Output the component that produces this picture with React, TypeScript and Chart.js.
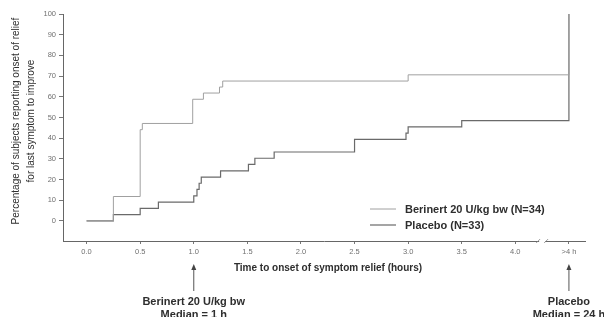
import React, { useEffect, useRef } from 'react';
import { Chart, registerables } from 'chart.js';

Chart.register(...registerables);

// Kaplan-Meier style step data (time in hours, cumulative % relieved)
const BERINERT_TIMES = [0, 0.25, 0.5, 0.52, 0.99, 1.09, 1.24, 1.27, 3.0, 4.5];
const BERINERT_VALUES = [0, 11.8, 44.1, 47.1, 58.8, 61.8, 64.7, 67.6, 70.6, 100];

const PLACEBO_TIMES = [0, 0.25, 0.5, 0.67, 1.0, 1.03, 1.05, 1.07, 1.25, 1.51, 1.57, 1.75, 2.5, 2.98, 3.0, 3.5, 4.5];
const PLACEBO_VALUES = [0, 3.0, 6.1, 9.1, 12.1, 15.2, 18.2, 21.2, 24.2, 27.3, 30.3, 33.3, 39.4, 42.4, 45.5, 48.5, 100];

const SERIES_LABELS = ['Berinert 20 U/kg bw (N=34)', 'Placebo (N=33)'];

const X_TICKS = [0, 0.5, 1.0, 1.5, 2.0, 2.5, 3.0, 3.5, 4.0, 4.5];
const X_TICK_LABELS = ['0.0', '0.5', '1.0', '1.5', '2.0', '2.5', '3.0', '3.5', '4.0', '>4 h'];
const Y_TICKS = [0, 10, 20, 30, 40, 50, 60, 70, 80, 90, 100];

const X_TITLE = 'Time to onset of symptom relief (hours)';
const Y_TITLE = ['Percentage of subjects reporting onset of relief', 'for last symptom to improve'];

const MEDIAN_TIMES = [1.0, 4.5];
const MEDIAN_TEXTS = [
  ['Berinert 20 U/kg bw', 'Median = 1 h'],
  ['Placebo', 'Median = 24 h'],
];
const BREAK_AT = 4.25;

const FONT = '"Liberation Sans", Arial, sans-serif';
const TEXT_COLOR = '#2e2e2e';
const COLORS = ['#a0a0a0', '#6a6a6a'];
const WIDTHS = [1, 1.2];

const annotations = {
  id: 'annotations',
  afterDraw(chart: any) {
    const ctx = chart.ctx as CanvasRenderingContext2D;
    const xs = chart.scales.x;
    const area = chart.chartArea;
    ctx.save();

    // axis break marker
    const bx = xs.getPixelForValue(BREAK_AT);
    const by = area.bottom;
    ctx.fillStyle = '#fff';
    ctx.fillRect(bx - 3, by - 2, 6, 4);
    ctx.strokeStyle = '#888';
    ctx.lineWidth = 0.8;
    ctx.beginPath();
    ctx.moveTo(bx - 6, by + 2);
    ctx.lineTo(bx - 2, by - 2);
    ctx.moveTo(bx + 2, by + 2);
    ctx.lineTo(bx + 6, by - 2);
    ctx.stroke();

    // y title
    ctx.fillStyle = TEXT_COLOR;
    ctx.font = `10px ${FONT}`;
    ctx.textAlign = 'center';
    ctx.textBaseline = 'middle';
    const cy = 121;
    Y_TITLE.forEach((line, i) => {
      ctx.save();
      ctx.translate(16 + i * 15, cy);
      ctx.rotate(-Math.PI / 2);
      ctx.fillText(line, 0, 0);
      ctx.restore();
    });

    // x title
    ctx.font = `bold 10px ${FONT}`;
    ctx.fillText(X_TITLE, 328, 268);

    // legend
    const lx = 370;
    const lys = [209, 225];
    SERIES_LABELS.forEach((lab, i) => {
      ctx.strokeStyle = COLORS[i];
      ctx.lineWidth = WIDTHS[i];
      ctx.beginPath();
      ctx.moveTo(lx, lys[i]);
      ctx.lineTo(lx + 26, lys[i]);
      ctx.stroke();
      ctx.fillStyle = TEXT_COLOR;
      ctx.font = `bold 11px ${FONT}`;
      ctx.textAlign = 'left';
      ctx.fillText(lab, lx + 35, lys[i] + 0.5);
    });

    // median arrows
    MEDIAN_TIMES.forEach((t, i) => {
      const px = xs.getPixelForValue(t);
      ctx.strokeStyle = '#555';
      ctx.fillStyle = '#444';
      ctx.lineWidth = 1;
      ctx.beginPath();
      ctx.moveTo(px, 268);
      ctx.lineTo(px, 291);
      ctx.stroke();
      ctx.beginPath();
      ctx.moveTo(px, 264);
      ctx.lineTo(px - 2.5, 270);
      ctx.lineTo(px + 2.5, 270);
      ctx.closePath();
      ctx.fill();
      ctx.fillStyle = TEXT_COLOR;
      ctx.font = `bold 11px ${FONT}`;
      ctx.textAlign = 'center';
      MEDIAN_TEXTS[i].forEach((ln, j) => {
        ctx.fillText(ln, px, 302 + j * 13);
      });
    });
    ctx.restore();
  },
};

export default function App() {
  const ref = useRef<HTMLCanvasElement>(null);
  useEffect(() => {
    const canvas = ref.current;
    if (!canvas) return;
    const chart = new Chart(canvas, {
      type: 'line',
      data: {
        datasets: [
          {
            label: SERIES_LABELS[0],
            data: BERINERT_TIMES.map((t, i) => ({ x: t, y: BERINERT_VALUES[i] })),
            borderColor: COLORS[0],
            borderWidth: WIDTHS[0],
            pointRadius: 0,
            stepped: 'before',
            fill: false,
          },
          {
            label: SERIES_LABELS[1],
            data: PLACEBO_TIMES.map((t, i) => ({ x: t, y: PLACEBO_VALUES[i] })),
            borderColor: COLORS[1],
            borderWidth: WIDTHS[1],
            pointRadius: 0,
            stepped: 'before',
            fill: false,
          },
        ],
      },
      options: {
        responsive: false,
        animation: false,
        devicePixelRatio: 1,
        layout: { padding: { top: 14, right: 19, left: 0, bottom: 0 } },
        plugins: { legend: { display: false }, tooltip: { enabled: false } },
        scales: {
          x: {
            type: 'linear',
            min: -0.22,
            max: 4.65,
            afterBuildTicks: (s: any) => {
              s.ticks = X_TICKS.map((v) => ({ value: v }));
            },
            afterFit: (s: any) => {
              s.height = 76;
            },
            ticks: {
              autoSkip: false,
              maxRotation: 0,
              padding: 3,
              color: '#707070',
              font: { family: FONT, size: 7.5 },
              callback: (_v: any, i: number) => X_TICK_LABELS[i],
            },
            grid: { drawOnChartArea: false, drawTicks: true, tickLength: 3, color: '#777' },
            border: { display: true, color: '#666', width: 1 },
          },
          y: {
            min: -9.7,
            max: 100,
            afterBuildTicks: (s: any) => {
              s.ticks = Y_TICKS.map((v) => ({ value: v }));
            },
            afterFit: (s: any) => {
              s.width = 63;
            },
            ticks: {
              autoSkip: false,
              padding: 3,
              color: '#707070',
              font: { family: FONT, size: 7.5 },
              callback: (v: any) => String(v),
            },
            grid: { drawOnChartArea: false, drawTicks: true, tickLength: 4, color: '#777' },
            border: { display: true, color: '#666', width: 1 },
          },
        },
      },
      plugins: [annotations],
    });
    return () => chart.destroy();
  }, []);
  return (
    <div style={{ position: 'fixed', left: 0, top: 0, width: 604, height: 317, background: '#fff' }}>
      <canvas ref={ref} width={604} height={317} style={{ display: 'block', width: 604, height: 317 }} />
    </div>
  );
}
